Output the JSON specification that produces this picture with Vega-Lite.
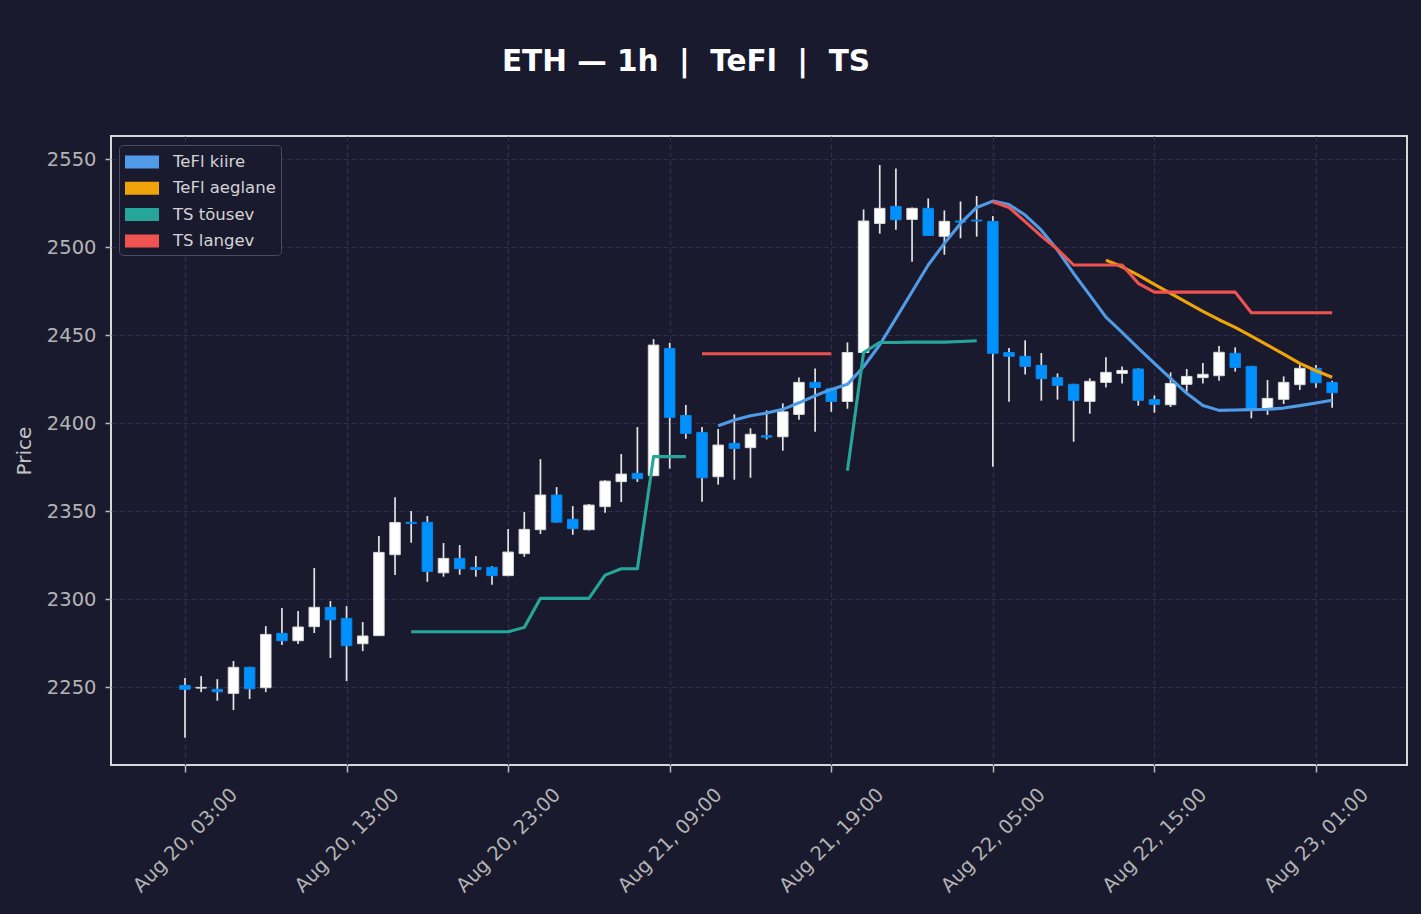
{
"$schema":"https://vega.github.io/schema/vega-lite/v6.json",
"width":1296,"height":629,
"autosize":{"type":"none"},
"padding":{"left":111,"top":136,"right":14,"bottom":149},
"background":"#1a1a2e",
"title":{"text":"ETH — 1h\u00a0\u00a0|\u00a0\u00a0TeFl\u00a0\u00a0|\u00a0\u00a0TS","fontSize":29.5,"fontWeight":"bold","color":"#ffffff","font":"DejaVu Sans","anchor":"middle","dx":-73,"offset":36,"baseline":"alphabetic"},
"datasets":{
"candles":[
{"t":"2024-08-20T03:00","o":2250.9,"h":2255.1,"l":2221.2,"c":2248.7},
{"t":"2024-08-20T04:00","o":2249.4,"h":2256.2,"l":2247.1,"c":2249.8},
{"t":"2024-08-20T05:00","o":2248.7,"h":2254.5,"l":2242.2,"c":2247.3},
{"t":"2024-08-20T06:00","o":2246.4,"h":2264.8,"l":2236.9,"c":2261.2},
{"t":"2024-08-20T07:00","o":2261.2,"h":2261.5,"l":2243.2,"c":2249.0},
{"t":"2024-08-20T08:00","o":2249.6,"h":2284.6,"l":2247.1,"c":2279.9},
{"t":"2024-08-20T09:00","o":2280.5,"h":2294.9,"l":2273.9,"c":2276.3},
{"t":"2024-08-20T10:00","o":2276.3,"h":2293.2,"l":2274.4,"c":2284.1},
{"t":"2024-08-20T11:00","o":2284.3,"h":2317.6,"l":2280.7,"c":2295.3},
{"t":"2024-08-20T12:00","o":2295.3,"h":2298.9,"l":2266.5,"c":2288.2},
{"t":"2024-08-20T13:00","o":2289.0,"h":2296.0,"l":2253.4,"c":2273.5},
{"t":"2024-08-20T14:00","o":2274.6,"h":2286.9,"l":2270.4,"c":2279.0},
{"t":"2024-08-20T15:00","o":2279.2,"h":2335.8,"l":2279.0,"c":2326.5},
{"t":"2024-08-20T16:00","o":2325.2,"h":2357.9,"l":2313.6,"c":2343.5},
{"t":"2024-08-20T17:00","o":2343.6,"h":2350.0,"l":2332.0,"c":2343.0},
{"t":"2024-08-20T18:00","o":2343.6,"h":2347.2,"l":2309.8,"c":2315.7},
{"t":"2024-08-20T19:00","o":2314.9,"h":2331.8,"l":2312.7,"c":2323.1},
{"t":"2024-08-20T20:00","o":2323.1,"h":2330.7,"l":2313.8,"c":2317.2},
{"t":"2024-08-20T21:00","o":2318.0,"h":2324.4,"l":2312.7,"c":2316.8},
{"t":"2024-08-20T22:00","o":2318.0,"h":2318.7,"l":2308.1,"c":2313.3},
{"t":"2024-08-20T23:00","o":2313.3,"h":2339.8,"l":2313.0,"c":2326.7},
{"t":"2024-08-21T00:00","o":2325.8,"h":2349.4,"l":2324.0,"c":2339.6},
{"t":"2024-08-21T01:00","o":2339.4,"h":2379.5,"l":2336.9,"c":2359.1},
{"t":"2024-08-21T02:00","o":2359.1,"h":2363.6,"l":2343.4,"c":2343.7},
{"t":"2024-08-21T03:00","o":2345.3,"h":2352.8,"l":2336.5,"c":2340.0},
{"t":"2024-08-21T04:00","o":2339.4,"h":2354.0,"l":2339.0,"c":2353.4},
{"t":"2024-08-21T05:00","o":2352.5,"h":2367.5,"l":2349.0,"c":2367.0},
{"t":"2024-08-21T06:00","o":2366.7,"h":2382.4,"l":2355.1,"c":2371.0},
{"t":"2024-08-21T07:00","o":2371.4,"h":2397.7,"l":2366.5,"c":2368.4},
{"t":"2024-08-21T08:00","o":2370.1,"h":2447.7,"l":2369.8,"c":2444.3},
{"t":"2024-08-21T09:00","o":2442.4,"h":2445.6,"l":2374.1,"c":2403.2},
{"t":"2024-08-21T10:00","o":2404.3,"h":2410.2,"l":2391.1,"c":2394.1},
{"t":"2024-08-21T11:00","o":2394.7,"h":2397.7,"l":2355.3,"c":2368.9},
{"t":"2024-08-21T12:00","o":2369.5,"h":2396.6,"l":2365.0,"c":2387.5},
{"t":"2024-08-21T13:00","o":2388.4,"h":2404.9,"l":2367.8,"c":2385.6},
{"t":"2024-08-21T14:00","o":2386.0,"h":2397.0,"l":2368.9,"c":2393.6},
{"t":"2024-08-21T15:00","o":2392.8,"h":2407.2,"l":2390.7,"c":2392.0},
{"t":"2024-08-21T16:00","o":2392.2,"h":2411.2,"l":2384.3,"c":2406.4},
{"t":"2024-08-21T17:00","o":2404.9,"h":2425.9,"l":2401.9,"c":2423.1},
{"t":"2024-08-21T18:00","o":2423.1,"h":2431.0,"l":2395.1,"c":2420.2},
{"t":"2024-08-21T19:00","o":2419.5,"h":2420.0,"l":2406.4,"c":2412.3},
{"t":"2024-08-21T20:00","o":2412.3,"h":2445.8,"l":2408.1,"c":2440.1},
{"t":"2024-08-21T21:00","o":2440.1,"h":2521.4,"l":2440.0,"c":2514.8},
{"t":"2024-08-21T22:00","o":2513.4,"h":2546.6,"l":2507.6,"c":2522.0},
{"t":"2024-08-21T23:00","o":2523.1,"h":2544.7,"l":2509.8,"c":2515.5},
{"t":"2024-08-22T00:00","o":2515.7,"h":2522.5,"l":2491.7,"c":2522.0},
{"t":"2024-08-22T01:00","o":2522.0,"h":2527.6,"l":2506.5,"c":2506.6},
{"t":"2024-08-22T02:00","o":2506.1,"h":2520.8,"l":2495.6,"c":2514.6},
{"t":"2024-08-22T03:00","o":2514.8,"h":2525.9,"l":2505.0,"c":2514.2},
{"t":"2024-08-22T04:00","o":2515.3,"h":2529.0,"l":2505.9,"c":2514.8},
{"t":"2024-08-22T05:00","o":2514.6,"h":2517.6,"l":2375.2,"c":2439.6},
{"t":"2024-08-22T06:00","o":2440.1,"h":2442.6,"l":2412.1,"c":2437.9},
{"t":"2024-08-22T07:00","o":2437.9,"h":2447.0,"l":2427.6,"c":2432.2},
{"t":"2024-08-22T08:00","o":2432.8,"h":2439.8,"l":2412.7,"c":2425.2},
{"t":"2024-08-22T09:00","o":2425.8,"h":2428.2,"l":2413.3,"c":2421.4},
{"t":"2024-08-22T10:00","o":2422.0,"h":2422.3,"l":2389.4,"c":2412.9},
{"t":"2024-08-22T11:00","o":2412.3,"h":2425.4,"l":2405.3,"c":2423.7},
{"t":"2024-08-22T12:00","o":2423.1,"h":2437.4,"l":2420.2,"c":2428.8},
{"t":"2024-08-22T13:00","o":2428.2,"h":2432.2,"l":2422.5,"c":2429.9},
{"t":"2024-08-22T14:00","o":2430.7,"h":2431.1,"l":2409.9,"c":2412.9},
{"t":"2024-08-22T15:00","o":2413.3,"h":2415.7,"l":2405.9,"c":2410.6},
{"t":"2024-08-22T16:00","o":2410.4,"h":2428.8,"l":2409.1,"c":2422.5},
{"t":"2024-08-22T17:00","o":2422.0,"h":2430.7,"l":2417.8,"c":2426.5},
{"t":"2024-08-22T18:00","o":2425.8,"h":2434.1,"l":2422.5,"c":2427.7},
{"t":"2024-08-22T19:00","o":2426.9,"h":2443.8,"l":2424.1,"c":2440.2},
{"t":"2024-08-22T20:00","o":2439.6,"h":2443.0,"l":2429.2,"c":2431.6},
{"t":"2024-08-22T21:00","o":2432.2,"h":2432.5,"l":2402.7,"c":2408.3},
{"t":"2024-08-22T22:00","o":2408.3,"h":2424.4,"l":2404.6,"c":2414.0},
{"t":"2024-08-22T23:00","o":2413.5,"h":2426.5,"l":2410.8,"c":2423.1},
{"t":"2024-08-23T00:00","o":2421.8,"h":2433.9,"l":2418.8,"c":2431.1},
{"t":"2024-08-23T01:00","o":2431.1,"h":2433.0,"l":2420.1,"c":2422.9},
{"t":"2024-08-23T02:00","o":2423.1,"h":2424.1,"l":2408.7,"c":2417.2}
],
"lines":[
{"t":"2024-08-21T12:00","v":2398.5,"s":"TeFl kiire","g":"k"},
{"t":"2024-08-21T13:00","v":2401.7,"s":"TeFl kiire","g":"k"},
{"t":"2024-08-21T14:00","v":2404.1,"s":"TeFl kiire","g":"k"},
{"t":"2024-08-21T15:00","v":2405.7,"s":"TeFl kiire","g":"k"},
{"t":"2024-08-21T16:00","v":2407.8,"s":"TeFl kiire","g":"k"},
{"t":"2024-08-21T17:00","v":2411.5,"s":"TeFl kiire","g":"k"},
{"t":"2024-08-21T18:00","v":2415.5,"s":"TeFl kiire","g":"k"},
{"t":"2024-08-21T19:00","v":2419.1,"s":"TeFl kiire","g":"k"},
{"t":"2024-08-21T20:00","v":2422.0,"s":"TeFl kiire","g":"k"},
{"t":"2024-08-21T21:00","v":2432.0,"s":"TeFl kiire","g":"k"},
{"t":"2024-08-21T22:00","v":2444.5,"s":"TeFl kiire","g":"k"},
{"t":"2024-08-21T23:00","v":2459.5,"s":"TeFl kiire","g":"k"},
{"t":"2024-08-22T00:00","v":2474.6,"s":"TeFl kiire","g":"k"},
{"t":"2024-08-22T01:00","v":2489.8,"s":"TeFl kiire","g":"k"},
{"t":"2024-08-22T02:00","v":2502.1,"s":"TeFl kiire","g":"k"},
{"t":"2024-08-22T03:00","v":2513.4,"s":"TeFl kiire","g":"k"},
{"t":"2024-08-22T04:00","v":2522.5,"s":"TeFl kiire","g":"k"},
{"t":"2024-08-22T05:00","v":2526.1,"s":"TeFl kiire","g":"k"},
{"t":"2024-08-22T06:00","v":2524.2,"s":"TeFl kiire","g":"k"},
{"t":"2024-08-22T07:00","v":2518.2,"s":"TeFl kiire","g":"k"},
{"t":"2024-08-22T08:00","v":2509.6,"s":"TeFl kiire","g":"k"},
{"t":"2024-08-22T09:00","v":2498.3,"s":"TeFl kiire","g":"k"},
{"t":"2024-08-22T10:00","v":2485.0,"s":"TeFl kiire","g":"k"},
{"t":"2024-08-22T11:00","v":2472.7,"s":"TeFl kiire","g":"k"},
{"t":"2024-08-22T12:00","v":2460.2,"s":"TeFl kiire","g":"k"},
{"t":"2024-08-22T13:00","v":2451.5,"s":"TeFl kiire","g":"k"},
{"t":"2024-08-22T14:00","v":2442.6,"s":"TeFl kiire","g":"k"},
{"t":"2024-08-22T15:00","v":2433.9,"s":"TeFl kiire","g":"k"},
{"t":"2024-08-22T16:00","v":2425.4,"s":"TeFl kiire","g":"k"},
{"t":"2024-08-22T17:00","v":2416.9,"s":"TeFl kiire","g":"k"},
{"t":"2024-08-22T18:00","v":2410.0,"s":"TeFl kiire","g":"k"},
{"t":"2024-08-22T19:00","v":2407.2,"s":"TeFl kiire","g":"k"},
{"t":"2024-08-22T20:00","v":2407.4,"s":"TeFl kiire","g":"k"},
{"t":"2024-08-22T21:00","v":2407.6,"s":"TeFl kiire","g":"k"},
{"t":"2024-08-22T22:00","v":2407.8,"s":"TeFl kiire","g":"k"},
{"t":"2024-08-22T23:00","v":2408.5,"s":"TeFl kiire","g":"k"},
{"t":"2024-08-23T00:00","v":2409.9,"s":"TeFl kiire","g":"k"},
{"t":"2024-08-23T01:00","v":2411.4,"s":"TeFl kiire","g":"k"},
{"t":"2024-08-23T02:00","v":2412.9,"s":"TeFl kiire","g":"k"},
{"t":"2024-08-22T12:00","v":2492.6,"s":"TeFl aeglane","g":"a"},
{"t":"2024-08-22T13:00","v":2488.8,"s":"TeFl aeglane","g":"a"},
{"t":"2024-08-22T14:00","v":2484.1,"s":"TeFl aeglane","g":"a"},
{"t":"2024-08-22T15:00","v":2478.8,"s":"TeFl aeglane","g":"a"},
{"t":"2024-08-22T16:00","v":2473.7,"s":"TeFl aeglane","g":"a"},
{"t":"2024-08-22T17:00","v":2468.6,"s":"TeFl aeglane","g":"a"},
{"t":"2024-08-22T18:00","v":2463.5,"s":"TeFl aeglane","g":"a"},
{"t":"2024-08-22T19:00","v":2458.7,"s":"TeFl aeglane","g":"a"},
{"t":"2024-08-22T20:00","v":2454.4,"s":"TeFl aeglane","g":"a"},
{"t":"2024-08-22T21:00","v":2449.4,"s":"TeFl aeglane","g":"a"},
{"t":"2024-08-22T22:00","v":2444.3,"s":"TeFl aeglane","g":"a"},
{"t":"2024-08-22T23:00","v":2439.2,"s":"TeFl aeglane","g":"a"},
{"t":"2024-08-23T00:00","v":2433.9,"s":"TeFl aeglane","g":"a"},
{"t":"2024-08-23T01:00","v":2429.7,"s":"TeFl aeglane","g":"a"},
{"t":"2024-08-23T02:00","v":2426.0,"s":"TeFl aeglane","g":"a"},
{"t":"2024-08-20T17:00","v":2281.4,"s":"TS tõusev","g":"t1"},
{"t":"2024-08-20T18:00","v":2281.4,"s":"TS tõusev","g":"t1"},
{"t":"2024-08-20T19:00","v":2281.4,"s":"TS tõusev","g":"t1"},
{"t":"2024-08-20T20:00","v":2281.4,"s":"TS tõusev","g":"t1"},
{"t":"2024-08-20T21:00","v":2281.4,"s":"TS tõusev","g":"t1"},
{"t":"2024-08-20T22:00","v":2281.4,"s":"TS tõusev","g":"t1"},
{"t":"2024-08-20T23:00","v":2281.4,"s":"TS tõusev","g":"t1"},
{"t":"2024-08-21T00:00","v":2283.9,"s":"TS tõusev","g":"t1"},
{"t":"2024-08-21T01:00","v":2300.4,"s":"TS tõusev","g":"t1"},
{"t":"2024-08-21T02:00","v":2300.4,"s":"TS tõusev","g":"t1"},
{"t":"2024-08-21T03:00","v":2300.4,"s":"TS tõusev","g":"t1"},
{"t":"2024-08-21T04:00","v":2300.4,"s":"TS tõusev","g":"t1"},
{"t":"2024-08-21T05:00","v":2313.6,"s":"TS tõusev","g":"t1"},
{"t":"2024-08-21T06:00","v":2317.2,"s":"TS tõusev","g":"t1"},
{"t":"2024-08-21T07:00","v":2317.2,"s":"TS tõusev","g":"t1"},
{"t":"2024-08-21T08:00","v":2380.9,"s":"TS tõusev","g":"t1"},
{"t":"2024-08-21T09:00","v":2380.9,"s":"TS tõusev","g":"t1"},
{"t":"2024-08-21T10:00","v":2380.9,"s":"TS tõusev","g":"t1"},
{"t":"2024-08-21T20:00","v":2372.9,"s":"TS tõusev","g":"t2"},
{"t":"2024-08-21T21:00","v":2440.1,"s":"TS tõusev","g":"t2"},
{"t":"2024-08-21T22:00","v":2445.8,"s":"TS tõusev","g":"t2"},
{"t":"2024-08-21T23:00","v":2445.8,"s":"TS tõusev","g":"t2"},
{"t":"2024-08-22T00:00","v":2446.0,"s":"TS tõusev","g":"t2"},
{"t":"2024-08-22T01:00","v":2446.0,"s":"TS tõusev","g":"t2"},
{"t":"2024-08-22T02:00","v":2446.0,"s":"TS tõusev","g":"t2"},
{"t":"2024-08-22T03:00","v":2446.3,"s":"TS tõusev","g":"t2"},
{"t":"2024-08-22T04:00","v":2446.8,"s":"TS tõusev","g":"t2"},
{"t":"2024-08-21T11:00","v":2439.4,"s":"TS langev","g":"l1"},
{"t":"2024-08-21T12:00","v":2439.4,"s":"TS langev","g":"l1"},
{"t":"2024-08-21T13:00","v":2439.4,"s":"TS langev","g":"l1"},
{"t":"2024-08-21T14:00","v":2439.4,"s":"TS langev","g":"l1"},
{"t":"2024-08-21T15:00","v":2439.4,"s":"TS langev","g":"l1"},
{"t":"2024-08-21T16:00","v":2439.4,"s":"TS langev","g":"l1"},
{"t":"2024-08-21T17:00","v":2439.4,"s":"TS langev","g":"l1"},
{"t":"2024-08-21T18:00","v":2439.4,"s":"TS langev","g":"l1"},
{"t":"2024-08-21T19:00","v":2439.4,"s":"TS langev","g":"l1"},
{"t":"2024-08-22T05:00","v":2525.7,"s":"TS langev","g":"l2"},
{"t":"2024-08-22T06:00","v":2522.5,"s":"TS langev","g":"l2"},
{"t":"2024-08-22T07:00","v":2514.4,"s":"TS langev","g":"l2"},
{"t":"2024-08-22T08:00","v":2506.2,"s":"TS langev","g":"l2"},
{"t":"2024-08-22T09:00","v":2498.7,"s":"TS langev","g":"l2"},
{"t":"2024-08-22T10:00","v":2489.8,"s":"TS langev","g":"l2"},
{"t":"2024-08-22T11:00","v":2489.8,"s":"TS langev","g":"l2"},
{"t":"2024-08-22T12:00","v":2489.8,"s":"TS langev","g":"l2"},
{"t":"2024-08-22T13:00","v":2489.8,"s":"TS langev","g":"l2"},
{"t":"2024-08-22T14:00","v":2479.4,"s":"TS langev","g":"l2"},
{"t":"2024-08-22T15:00","v":2474.4,"s":"TS langev","g":"l2"},
{"t":"2024-08-22T16:00","v":2474.4,"s":"TS langev","g":"l2"},
{"t":"2024-08-22T17:00","v":2474.4,"s":"TS langev","g":"l2"},
{"t":"2024-08-22T18:00","v":2474.4,"s":"TS langev","g":"l2"},
{"t":"2024-08-22T19:00","v":2474.4,"s":"TS langev","g":"l2"},
{"t":"2024-08-22T20:00","v":2474.4,"s":"TS langev","g":"l2"},
{"t":"2024-08-22T21:00","v":2462.7,"s":"TS langev","g":"l2"},
{"t":"2024-08-22T22:00","v":2462.7,"s":"TS langev","g":"l2"},
{"t":"2024-08-22T23:00","v":2462.7,"s":"TS langev","g":"l2"},
{"t":"2024-08-23T00:00","v":2462.7,"s":"TS langev","g":"l2"},
{"t":"2024-08-23T01:00","v":2462.7,"s":"TS langev","g":"l2"},
{"t":"2024-08-23T02:00","v":2462.7,"s":"TS langev","g":"l2"}
]
},
"encoding":{
"x":{"field":"t","type":"temporal",
 "scale":{"padding":0,"domain":[{"year":2024,"month":"aug","date":19,"hours":22,"minutes":25,"seconds":12},{"year":2024,"month":"aug","date":23,"hours":6,"minutes":38}]},
 "axis":{"title":null,"format":"%b %d, %H:%M","labelAngle":-45,"labelAlign":"center","labelBaseline":"middle","labelPadding":68,"tickSize":7,
  "values":[{"year":2024,"month":"aug","date":20,"hours":3},{"year":2024,"month":"aug","date":20,"hours":13},{"year":2024,"month":"aug","date":20,"hours":23},{"year":2024,"month":"aug","date":21,"hours":9},{"year":2024,"month":"aug","date":21,"hours":19},{"year":2024,"month":"aug","date":22,"hours":5},{"year":2024,"month":"aug","date":22,"hours":15},{"year":2024,"month":"aug","date":23,"hours":1}]}}
},
"layer":[
{"data":{"name":"candles"},"mark":{"type":"rule","color":"#e4e4e4","strokeWidth":1.7},
 "encoding":{"y":{"field":"l","type":"quantitative","scale":{"domain":[2205.7,2563.1],"nice":false,"zero":false},
  "axis":{"title":"Price","format":"d","values":[2250,2300,2350,2400,2450,2500,2550],"tickSize":6,"labelPadding":9,"titleX":-87,"titleY":314.5,"titleAngle":-90,"titleAlign":"center","titleBaseline":"middle"}},
  "y2":{"field":"h"}}},
{"data":{"name":"candles"},"mark":{"type":"bar","size":10.5,"strokeWidth":1},
 "encoding":{"y":{"field":"o","type":"quantitative"},"y2":{"field":"c"},
  "fill":{"condition":{"test":"datum.c >= datum.o","value":"#ffffff"},"value":"#0091ff"},
  "stroke":{"condition":{"test":"datum.c >= datum.o","value":"#d8d8d8"},"value":"#0a86e8"}}},
{"data":{"name":"lines"},"mark":{"type":"line","strokeJoin":"round","strokeCap":"butt","strokeWidth":3.1},
 "encoding":{"y":{"field":"v","type":"quantitative"},
  "color":{"field":"s","type":"nominal","scale":{"domain":["TeFl kiire","TeFl aeglane","TS tõusev","TS langev"],"range":["#4f9be8","#f0a30a","#26a69a","#ef5350"]},
   "legend":{"title":null,"orient":"none","legendX":8,"legendY":9,"symbolType":"M-1.417,-0.54H1.417V0.54H-1.417Z","symbolSize":576,"symbolOffset":6,"labelOffset":19,"rowPadding":5.3,"padding":5,"fillColor":"#1a1a2e","strokeColor":"#4a4a62","cornerRadius":4,
    "encode":{"symbols":{"update":{"fill":{"scale":"color","field":"value"},"stroke":{"value":"transparent"},"strokeWidth":{"value":0},"opacity":{"value":1}}}}}},
  "detail":{"field":"g"},
  "order":{"field":"t","type":"temporal"}}}
],
"config":{
 "font":"DejaVu Sans",
 "view":{"stroke":"#d8d8d8","strokeWidth":2,"fill":"#1a1a2e"},
 "axis":{"domain":false,"grid":true,"gridColor":"#2e2e52","gridDash":[5,3],"gridWidth":1.2,"tickColor":"#b8b8b8","tickWidth":1.5,
  "labelColor":"#b4b4b4","labelFontSize":19.5,"labelFont":"DejaVu Sans","titleColor":"#c4c4c4","titleFontSize":20,"titleFont":"DejaVu Sans","titleFontWeight":"normal",
  "labelOverlap":false,"labelFlush":false,"labelBound":false},
 "legend":{"labelFont":"DejaVu Sans","labelFontSize":16.5,"labelColor":"#d4d4d4"}
}
}
